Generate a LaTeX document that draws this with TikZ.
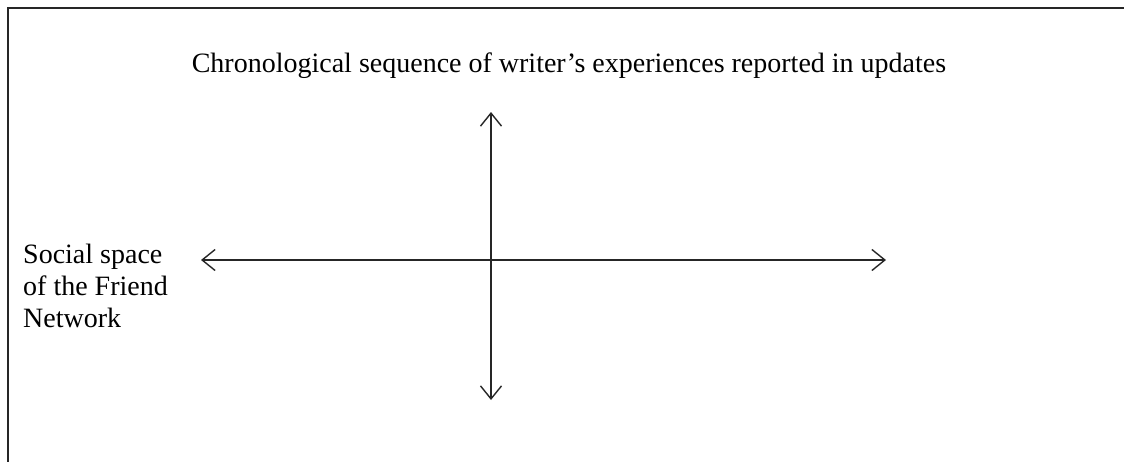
\documentclass[tikz,border=0pt]{standalone}
\usepackage{fontspec}
\setmainfont{Liberation Serif}
\usetikzlibrary{arrows.meta}
\tikzset{
  frameline/.style={line width=2pt, draw=black!85},
  axis/.style={line width=1.4pt, draw=black!85,
    {Straight Barb[length=13pt,width=21pt]}-{Straight Barb[length=13pt,width=21pt]}},
  caption/.style={inner sep=0pt, font=\fontsize{28}{32}\selectfont}
}
\begin{document}
\begin{tikzpicture}[x=1pt,y=-1pt]
  \useasboundingbox (0,0) rectangle (1124,461);
  % open frame: top and left edges
  \coordinate (fl) at (8,466);
  \coordinate (fc) at (8,8);
  \coordinate (fr) at (1130,8);
  \draw[frameline] (fl) -- (fc) -- (fr);
  % headings
  \node[caption, anchor=base] (title) at (569,72)
    {Chronological sequence of writer’s experiences reported in updates};
  \node[caption, anchor=base west, align=left] (social) at (23,327)
    {Social space\\of the Friend\\Network};
  % axes
  \coordinate (west) at (201,260);
  \coordinate (east) at (886,260);
  \coordinate (north) at (491,112);
  \coordinate (south) at (491,400);
  \draw[axis] (west) -- (east);
  \draw[axis] (south) -- (north);
\end{tikzpicture}
\end{document}
